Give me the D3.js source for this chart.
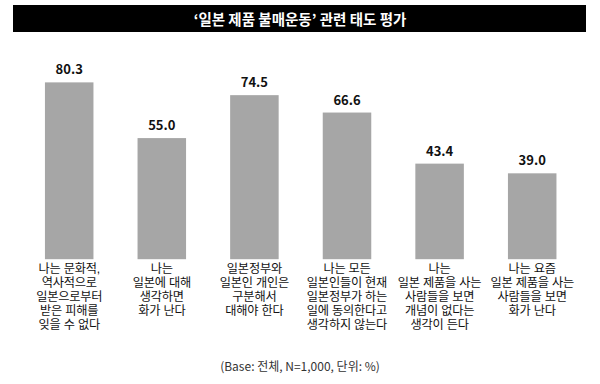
<!DOCTYPE html>
<html>
<head>
<meta charset="utf-8">
<script src="https://cdn.jsdelivr.net/npm/d3@7"></script>
<style>
  html, body { margin: 0; padding: 0; background: #fff; }
  svg { display: block; }
  text { font-family: "Noto Sans CJK KR", "Noto Sans", sans-serif; }
  .lab { font-family: "Liberation Sans", "Noto Sans CJK KR", sans-serif; }
</style>
</head>
<body>
<svg id="chart" width="600" height="384"></svg>
<script>
const title = "‘일본 제품 불매운동’ 관련 태도 평가";
const categories = [
  ["나는 문화적,", "역사적으로", "일본으로부터", "받은 피해를", "잊을 수 없다"],
  ["나는", "일본에 대해", "생각하면", "화가 난다"],
  ["일본정부와", "일본인 개인은", "구분해서", "대해야 한다"],
  ["나는 모든", "일본인들이 현재", "일본정부가 하는", "일에 동의한다고", "생각하지 않는다"],
  ["나는", "일본 제품을 사는", "사람들을 보면", "개념이 없다는", "생각이 든다"],
  ["나는 요즘", "일본 제품을 사는", "사람들을 보면", "화가 난다"]
];
const values = [80.3, 55.0, 74.5, 66.6, 43.4, 39.0];
const footnote = "(Base: 전체, N=1,000, 단위: %)";

const svg = d3.select("#chart");

// title bar
svg.append("rect").attr("x", 13).attr("y", 5).attr("width", 573).attr("height", 27).attr("fill", "#000");
svg.append("text").attr("x", 300).attr("y", 24.5).attr("text-anchor", "middle")
  .attr("fill", "#fff").attr("font-size", 14.5).attr("font-weight", "bold").text(title);

const idx = d3.range(values.length);
const x = d3.scaleBand().domain(idx).range([22.9, 578.5]).paddingInner(0.476).paddingOuter(0.238);
const y = d3.scaleLinear().domain([0, 100]).range([259.2, 39]);

svg.append("g").selectAll("rect").data(idx).join("rect")
  .attr("x", i => x(i)).attr("width", x.bandwidth())
  .attr("y", i => y(values[i])).attr("height", i => y(0) - y(values[i]))
  .attr("fill", "#a6a6a6");

svg.append("g").selectAll("text").data(idx).join("text")
  .attr("x", i => x(i) + x.bandwidth() / 2)
  .attr("y", i => y(values[i]) - 8)
  .attr("text-anchor", "middle").attr("font-size", 13).attr("font-weight", "bold")
  .attr("fill", "#111")
  .text(i => values[i].toFixed(1));

const lab = svg.append("g").selectAll("text").data(idx).join("text")
  .attr("class", "lab")
  .attr("text-anchor", "middle").attr("font-size", 12.2).attr("fill", "#111")
  .attr("letter-spacing", "-0.2px");
lab.each(function(i) {
  const t = d3.select(this);
  categories[i].forEach((line, k) => {
    t.append("tspan").attr("x", x(i) + x.bandwidth() / 2).attr("y", 272.5 + k * 14).text(line);
  });
});

svg.append("text").attr("x", 300).attr("y", 370.5).attr("text-anchor", "middle")
  .attr("font-size", 12).attr("fill", "#333").text(footnote);
</script>
</body>
</html>
